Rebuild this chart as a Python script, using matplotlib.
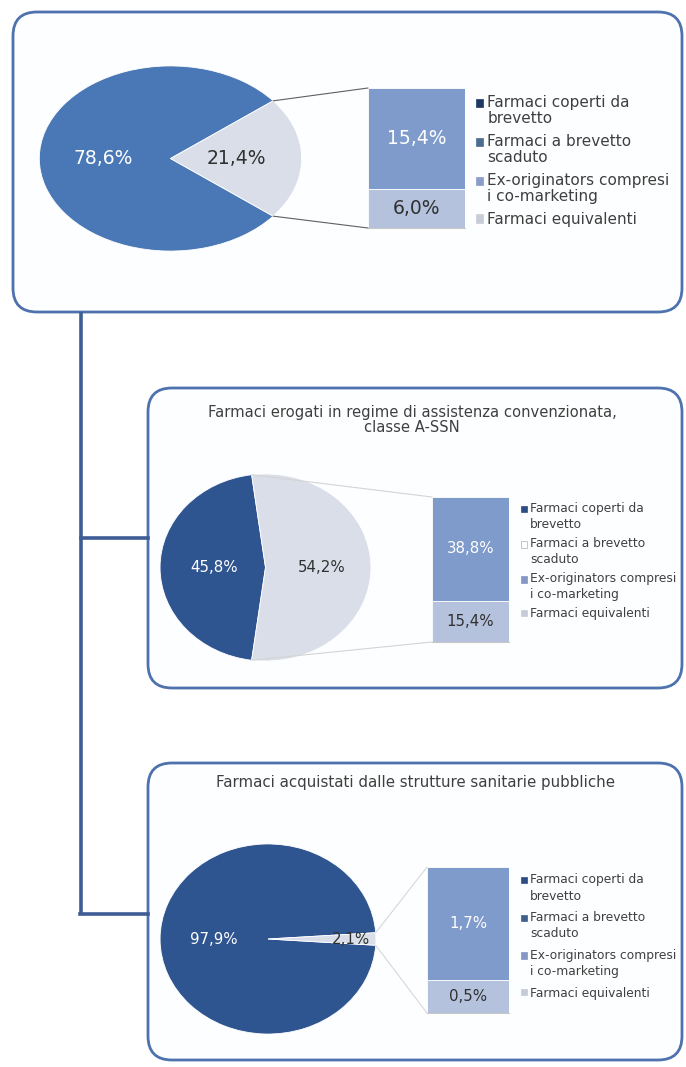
import matplotlib
matplotlib.use("Agg")
import numpy as np
import matplotlib.pyplot as plt
from matplotlib.patches import FancyBboxPatch, Patch, ConnectionPatch, Rectangle
from matplotlib.legend_handler import HandlerPatch

W, H = 686, 1067

# ---- data ----
pie_top = [78.6, 21.4]
bar_top = [6.0, 15.4]          # bottom segment, top segment
pie_mid = [45.8, 54.2]
bar_mid = [15.4, 38.8]
pie_bot = [97.9, 2.1]
bar_bot = [0.5, 1.7]

title_mid = "Farmaci erogati in regime di assistenza convenzionata,\nclasse A-SSN"
title_bot = "Farmaci acquistati dalle strutture sanitarie pubbliche"
legend_labels = ["Farmaci coperti da\nbrevetto",
                 "Farmaci a brevetto\nscaduto",
                 "Ex-originators compresi\ni co-marketing",
                 "Farmaci equivalenti"]

plt.rcParams['font.family'] = ['DejaVu Sans']
TXT = '#3f3f3f'

def fmt(v):
    return f"{v:.1f}%".replace('.', ',')


class FirstLineHandler(HandlerPatch):
    # square marker aligned with the first line of a two-line label
    def __init__(self, shift):
        super().__init__()
        self.shift = shift

    def create_artists(self, legend, orig_handle, xdescent, ydescent,
                       width, height, fontsize, trans):
        p = Rectangle((-xdescent, -ydescent + self.shift * fontsize), width, height)
        self.update_prop(p, orig_handle, legend)
        p.set_transform(trans)
        return [p]


fig = plt.figure(figsize=(W / 100, H / 100), dpi=100)
fig.patch.set_facecolor('white')

# background axes in pixel coordinates for boxes / connectors
bg = fig.add_axes([0, 0, 1, 1])
bg.set_xlim(0, W)
bg.set_ylim(H, 0)
bg.axis('off')

def box(x0, y0, x1, y1):
    p = FancyBboxPatch((x0 + 24, y0 + 24), x1 - x0 - 48, y1 - y0 - 48,
                       boxstyle="round,pad=24", fc='#fdfeff', ec='#4d72ad', lw=2.0)
    bg.add_patch(p)

box(13, 12, 682, 312)
box(148, 388, 682, 688)
box(148, 763, 682, 1060)

# connector lines
cc = '#3e5c95'
bg.plot([81, 81], [312, 914], color=cc, lw=2.6, solid_capstyle='butt')
bg.plot([81, 148], [538, 538], color=cc, lw=2.6)
bg.plot([79.7, 148], [914, 914], color=cc, lw=2.6)

def px_axes(x0, y0, x1, y1):
    return fig.add_axes([x0 / W, 1 - y1 / H, (x1 - x0) / W, (y1 - y0) / H])

def panel(vals, bars, pie_box, bar_box, dark, light, line_col, leg_pos, leg_cols,
          pct_pos, num_fs, leg_fs, leg_ls, leg_sp):
    pa = px_axes(*pie_box)
    start = vals[1] * 3.6 / 2
    pa.pie(vals, colors=[dark, light], startangle=start, radius=1,
           wedgeprops=dict(edgecolor='white', linewidth=0.6))
    pa.set_aspect('auto')
    pa.set_xlim(-1.01, 1.01)
    pa.set_ylim(-1.01, 1.01)
    pa.axis('off')
    pa.text(-pct_pos[0], 0, fmt(vals[0]), color='white', ha='center', va='center', fontsize=num_fs)
    pa.text(pct_pos[1], 0, fmt(vals[1]), color='#303030', ha='center', va='center', fontsize=num_fs)

    ba = px_axes(*bar_box)
    ba.bar([0], [bars[0]], width=1, color='#b5c2dd', edgecolor='white', lw=0.6)
    ba.bar([0], [bars[1]], width=1, bottom=[bars[0]], color='#7f9bcb', edgecolor='white', lw=0.6)
    ba.set_xlim(-0.5, 0.5)
    ba.set_ylim(0, sum(bars))
    ba.text(0, bars[0] / 2, fmt(bars[0]), color='#303030', ha='center', va='center', fontsize=num_fs)
    ba.text(0, bars[0] + bars[1] / 2, fmt(bars[1]), color='white', ha='center', va='center', fontsize=num_fs)
    for s in ['top', 'left', 'right']:
        ba.spines[s].set_visible(False)
    ba.spines['bottom'].set_color('#c8c8c8')
    ba.set_xticks([])
    ba.set_yticks([])

    th = np.deg2rad(start)
    for sgn, yb in [(1, 1), (-1, 0)]:
        con = ConnectionPatch(xyA=(np.cos(th), sgn * np.sin(th)), coordsA=pa.transData,
                              xyB=(0, yb), coordsB=ba.transAxes,
                              color=line_col, lw=0.8)
        fig.add_artist(con)

    handles = [Patch(facecolor=c, edgecolor='#b0b0b0' if c == '#ffffff' else c, lw=0.5)
               for c in leg_cols]
    hmap = {h: FirstLineHandler(0.5 * leg_ls)
            for h, lab in zip(handles, legend_labels) if '\n' in lab}
    leg = fig.legend(handles, legend_labels, loc='upper left', handler_map=hmap,
                     bbox_to_anchor=(leg_pos[0] / W, 1 - leg_pos[1] / H),
                     frameon=False, fontsize=leg_fs, handlelength=0.45, handleheight=0.45,
                     handletextpad=0.3, labelspacing=leg_sp, borderaxespad=0, borderpad=0,
                     labelcolor=TXT)
    for t in leg.get_texts():
        t.set_linespacing(leg_ls)

panel(pie_top, bar_top, (38, 65, 303, 252), (368, 88, 465, 228),
      '#4a78b6', '#d9dee9', '#606060', (476, 95),
      ['#1f3a62', '#4b6e90', '#8a9cc8', '#c9cdd8'], pct_pos=(0.51, 0.50),
      num_fs=13.5, leg_fs=11.0, leg_ls=1.05, leg_sp=0.55)
panel(pie_mid, bar_mid, (159, 473, 372, 662), (432, 497, 509, 642),
      '#2f5591', '#d9dee9', '#d4d4d4', (521, 502),
      ['#2b4d84', '#ffffff', '#8496c2', '#c6cbda'], pct_pos=(0.49, 0.53),
      num_fs=10.8, leg_fs=8.85, leg_ls=1.3, leg_sp=0.5)
panel(pie_bot, bar_bot, (159, 843, 377, 1035), (427, 867, 509, 1013),
      '#2f5591', '#d9dee9', '#d8d8d8', (521, 873),
      ['#2b4d84', '#3f5f8f', '#8597c2', '#c6cbda'], pct_pos=(0.5, 0.77),
      num_fs=10.8, leg_fs=8.85, leg_ls=1.35, leg_sp=0.68)

bg.text(412, 420, title_mid, ha='center', va='center', fontsize=10.6, color=TXT, linespacing=1.0)
bg.text(416, 783, title_bot, ha='center', va='center', fontsize=10.8, color=TXT)

fig.savefig('out.png', dpi=100)
